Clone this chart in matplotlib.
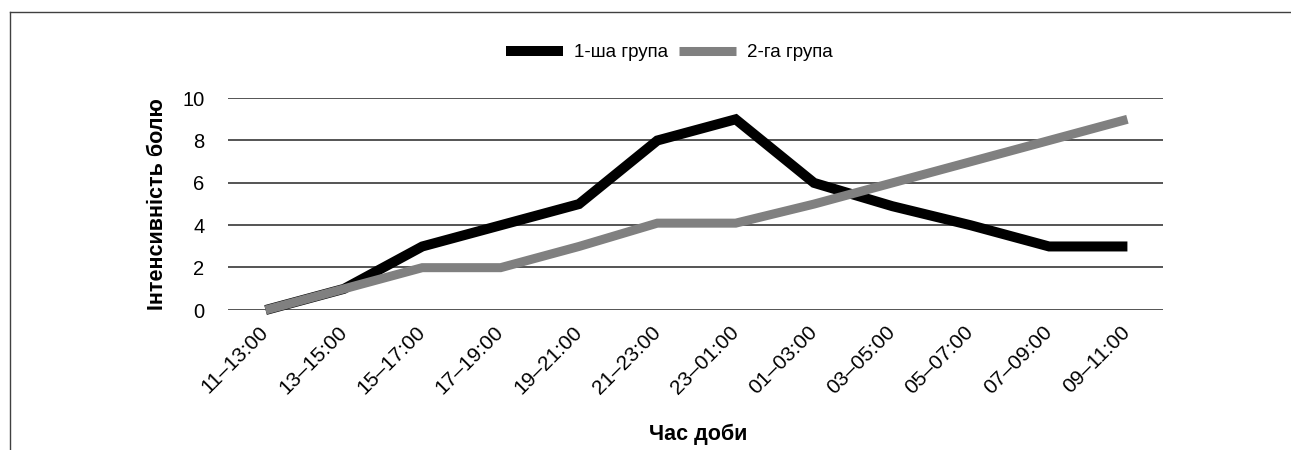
import matplotlib.pyplot as plt
from matplotlib.lines import Line2D

plt.rcParams['font.family'] = ['Liberation Sans', 'DejaVu Sans']

hours = ["11–13:00", "13–15:00", "15–17:00", "17–19:00", "19–21:00", "21–23:00",
         "23–01:00", "01–03:00", "03–05:00", "05–07:00", "07–09:00", "09–11:00"]
group1 = [0, 1, 3, 4, 5, 8, 9, 6, 4.9, 4, 3, 3]
group2 = [0, 1, 2, 2, 3, 4.1, 4.1, 5, 6, 7, 8, 9]
yticks = [0, 2, 4, 6, 8, 10]

fig = plt.figure(figsize=(12.91, 4.5), dpi=100)
ax = fig.add_axes([0.1766, 0.311, 0.7246, 0.471])

x = range(len(hours))
ax.plot(x, group1, color="black", lw=7.2, label="1-ша група", clip_on=False,
        solid_joinstyle='miter', solid_capstyle='butt')
ax.plot(x, group2, color="#808080", lw=6.5, label="2-га група", clip_on=False,
        solid_joinstyle='miter', solid_capstyle='butt')

ax.set_xlim(-0.48, 11.46)
ax.set_ylim(0, 10)
ax.set_yticks(yticks)
ax.set_xticks(list(x))
ax.set_xticklabels(hours, rotation=45, ha='right', va='center', rotation_mode='anchor', fontsize=15)
ax.tick_params(axis='y', labelsize=14.5, length=0, pad=17)
ax.tick_params(axis='x', length=0, pad=14)
for g in yticks:
    ax.axhline(g + 0.01, color="#262626", lw=1.1, zorder=0)
for s in ax.spines.values():
    s.set_visible(False)

ax.set_ylabel("Інтенсивність болю", fontsize=15.5, fontweight='bold', labelpad=10)
fig.text(0.541, 0.022, "Час доби", fontsize=15.5, fontweight='bold', ha='center')

ax.legend(loc='center', bbox_to_anchor=(0.472, 1.215), ncol=2, frameon=False,
          fontsize=13.5, handlelength=3.0, columnspacing=0.6, handletextpad=0.6)

# frame of the original picture (cropped on right and bottom)
fig.add_artist(Line2D([10/1291, 1], [1-12/450, 1-12/450], color="#404040", lw=1))
fig.add_artist(Line2D([10/1291, 10/1291], [0, 1-12/450], color="#404040", lw=1))

fig.savefig("out.png", dpi=100)
